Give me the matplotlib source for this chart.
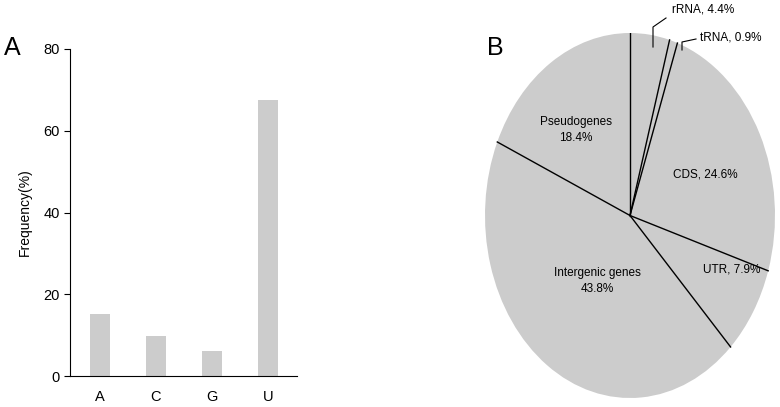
import numpy as np
import matplotlib
matplotlib.use('Agg')
import matplotlib.pyplot as plt

plt.rcParams['font.family'] = ['Liberation Sans', 'DejaVu Sans']

# panel A: nucleotide frequency
bases = ['A', 'C', 'G', 'U']
freq = [15.2, 9.8, 6.2, 67.5]

# panel B: genomic distribution
regions = ['rRNA', 'tRNA', 'CDS', 'UTR', 'Intergenic genes', 'Pseudogenes']
shares = [4.4, 0.9, 24.6, 7.9, 43.8, 18.4]

W, H = 780, 407
fig = plt.figure(figsize=(W / 100, H / 100), dpi=100)

def px_axes(x0, y0, x1, y1):
  # axes from pixel box (top-left origin)
  return fig.add_axes([x0 / W, 1 - y1 / H, (x1 - x0) / W, (y1 - y0) / H])

gray = '#cccccc'

ax = px_axes(70, 49, 297, 376)
x = np.arange(len(bases))
ax.bar(x, freq, 0.36, color=gray)
ax.set_xlim(-0.536, 3.52)
ax.set_ylim(0, 80)
ax.set_yticks([0, 20, 40, 60, 80])
ax.set_xticks(x)
ax.set_xticklabels(bases)
ax.tick_params(axis='x', length=0, pad=10, labelsize=10.5)
ax.tick_params(axis='y', length=4, labelsize=10.5)
ax.spines['top'].set_visible(False)
ax.spines['right'].set_visible(False)
ax.set_ylabel('Frequency(%)', fontsize=10, labelpad=8)
fig.text(4 / W, 1 - 48 / H, 'A', fontsize=18, va='center', ha='left')

# pie, stretched vertically
bx = px_axes(485, 33, 775, 398)
bx.axis('off')
bx.pie(shares, startangle=90, counterclock=False, colors=[gray] * len(shares),
       radius=1, frame=False)
bx.set_aspect('auto')
bx.set_xlim(-1, 1)
bx.set_ylim(-1, 1)
cum = np.concatenate([[0], np.cumsum(shares)])
for c in cum[:-1]:
  a = np.deg2rad(90 - 360 * c / sum(shares))
  bx.plot([0, np.cos(a)], [0, np.sin(a)], color='black', lw=1)

fig.text(487 / W, 1 - 48 / H, 'B', fontsize=18, va='center', ha='left')

fs = 8.5
def lab(xp, yp, s, ha='center'):
  fig.text(xp / W, 1 - yp / H, s, fontsize=fs, ha=ha, va='center', linespacing=1.5)

lab(576, 130, '%s\n%.1f%%' % (regions[5], shares[5]))
lab(705, 175, '%s, %.1f%%' % (regions[2], shares[2]))
lab(703, 270, '%s, %.1f%%' % (regions[3], shares[3]), ha='left')
lab(597, 281, '%s\n%.1f%%' % (regions[4], shares[4]))
lab(672, 10, '%s, %.1f%%' % (regions[0], shares[0]), ha='left')
lab(700, 37, '%s, %.1f%%' % (regions[1], shares[1]), ha='left')

# leader lines for the thin slices
def pxline(xs, ys):
  fig.add_artist(plt.Line2D([v / W for v in xs], [1 - v / H for v in ys],
                            color='black', lw=0.8))
pxline([653, 653, 666], [47, 27, 18])
pxline([682, 682, 696], [50, 42, 39])

fig.savefig('out.png', dpi=100)
